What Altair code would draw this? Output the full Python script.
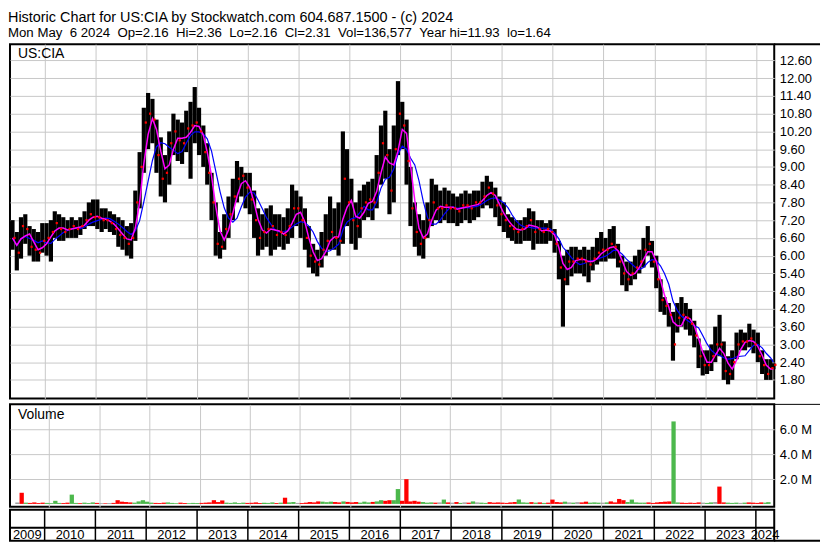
import altair as alt
import pandas as pd

# ---------------- data (monthly, May 2009 .. May 2024) ----------------
high = [
    7.2, 6.8, 7.3, 7.4, 7.0, 6.9, 6.8, 7.1,                          # 2009 May-Dec
    7.1, 7.2, 7.5, 7.4, 7.3, 7.2, 7.3, 7.2, 7.3, 7.5, 7.8, 7.9,      # 2010
    7.9, 7.6, 7.6, 7.5, 7.4, 7.3, 7.2, 7.0, 7.1, 8.2, 9.5, 11.0,     # 2011
    11.5, 11.3, 10.6, 10.0, 9.4, 10.2, 10.8, 10.6, 10.5, 10.9, 11.2, 11.7,  # 2012
    11.0, 10.4, 9.8, 8.8, 7.8, 6.8, 7.4, 8.0, 8.6, 9.2, 9.0, 8.8,    # 2013
    8.8, 8.2, 7.6, 7.4, 7.6, 7.7, 7.4, 7.4, 7.3, 7.6, 8.4, 8.2,      # 2014
    8.0, 7.6, 7.0, 6.4, 6.2, 6.8, 7.4, 8.0, 7.6, 7.8, 10.2, 9.6,     # 2015
    8.6, 7.8, 8.2, 8.4, 8.5, 8.6, 9.4, 10.4, 10.9, 9.6, 10.4, 11.9,  # 2016
    11.2, 10.6, 9.0, 7.8, 7.4, 7.2, 7.8, 8.6, 8.4, 8.2, 8.3, 8.2,    # 2017
    8.1, 8.0, 8.1, 8.2, 8.1, 8.2, 8.2, 8.5, 8.7, 8.5, 8.3, 8.0,      # 2018
    7.8, 7.4, 7.3, 7.2, 7.2, 7.3, 7.6, 7.5, 7.2, 7.2, 7.1, 7.2,      # 2019
    6.9, 6.5, 6.0, 6.2, 6.3, 6.3, 6.2, 6.3, 6.2, 6.3, 6.6, 6.8,      # 2020
    6.6, 6.9, 7.0, 6.4, 6.0, 5.8, 5.8, 6.0, 6.2, 6.6, 7.0, 6.5,      # 2021
    6.0, 5.2, 4.6, 4.4, 4.1, 4.4, 4.6, 4.4, 4.2, 3.8, 3.2, 2.8,      # 2022
    2.8, 3.0, 3.6, 4.0, 3.1, 2.6, 2.8, 3.4, 3.5, 3.4, 3.7, 3.5,      # 2023
    3.4, 2.8, 2.5, 2.5, 2.36,                                        # 2024 Jan-May
]
low = [
    6.2, 5.5, 5.9, 6.4, 6.0, 5.8, 5.8, 6.1,
    6.0, 5.8, 6.6, 6.5, 6.5, 6.6, 6.6, 6.6, 6.7, 6.9, 7.0, 7.0,
    6.9, 6.8, 6.9, 6.8, 6.7, 6.3, 6.2, 6.0, 5.9, 6.5, 7.6, 8.8,
    9.6, 9.8, 8.8, 8.0, 7.8, 8.4, 9.4, 9.2, 9.1, 9.5, 8.6, 9.8,
    9.4, 9.0, 8.4, 7.2, 6.0, 5.9, 6.2, 6.6, 7.2, 7.8, 8.0, 7.6,
    7.4, 6.6, 6.0, 6.2, 6.3, 6.0, 6.2, 6.3, 6.2, 6.4, 6.6, 7.0,
    6.6, 6.2, 5.6, 5.4, 5.3, 5.6, 6.0, 6.2, 6.2, 6.0, 6.4, 7.0,
    6.4, 6.2, 6.6, 7.2, 7.3, 7.2, 7.6, 8.4, 8.6, 7.4, 7.8, 9.4,
    9.6, 8.4, 7.0, 6.3, 6.0, 5.9, 6.6, 7.0, 7.2, 7.1, 7.2, 7.1,
    7.1, 7.0, 7.1, 7.2, 7.1, 7.2, 7.3, 7.6, 7.7, 7.6, 7.3, 7.0,
    6.8, 6.6, 6.5, 6.4, 6.4, 6.5, 6.5, 6.2, 6.4, 6.4, 6.4, 6.5,
    6.1, 5.2, 3.6, 5.0, 5.3, 5.4, 5.4, 5.3, 5.1, 5.5, 5.7, 5.8,
    5.8, 5.9, 5.9, 5.6, 5.0, 4.8, 5.0, 5.2, 5.4, 5.6, 6.0, 5.6,
    4.9, 4.1, 4.0, 3.6, 2.45, 3.4, 3.6, 3.5, 3.3, 2.9, 2.2, 1.95,
    2.0, 2.1, 2.4, 2.6, 1.8, 1.65, 1.8, 2.5, 2.8, 2.8, 2.9, 2.7,
    2.4, 2.0, 1.8, 1.8, 2.16,
]
close = [
    6.6, 6.1, 7.0, 6.9, 6.3, 6.2, 6.1, 6.5,
    6.6, 6.8, 7.1, 6.9, 6.8, 6.9, 7.0, 6.9, 7.0, 7.2, 7.4, 7.3,
    7.3, 7.2, 7.2, 7.1, 6.9, 6.7, 6.6, 6.4, 6.6, 7.8, 9.0, 10.5,
    10.8, 10.6, 9.4, 8.6, 8.8, 9.8, 10.2, 9.9, 9.8, 10.3, 10.4, 10.5,
    10.2, 9.5, 8.8, 7.8, 6.4, 6.3, 6.9, 7.4, 8.0, 8.6, 8.7, 8.3,
    7.9, 7.2, 6.6, 6.8, 6.9, 7.0, 6.7, 6.8, 6.7, 7.0, 7.6, 7.6,
    7.2, 6.6, 6.0, 5.8, 5.7, 6.2, 6.5, 6.8, 6.6, 6.5, 8.6, 7.8,
    7.2, 7.0, 7.6, 7.8, 7.9, 7.8, 8.8, 9.8, 9.4, 8.2, 9.6, 10.8,
    10.4, 9.2, 7.6, 6.8, 6.4, 6.6, 7.2, 7.8, 7.6, 7.6, 7.7, 7.6,
    7.6, 7.5, 7.7, 7.7, 7.6, 7.8, 7.8, 8.0, 8.3, 8.1, 7.7, 7.4,
    7.2, 7.0, 6.9, 6.8, 6.9, 7.0, 7.2, 6.8, 6.9, 6.8, 6.9, 6.8,
    6.4, 5.6, 5.2, 5.8, 5.8, 5.9, 5.9, 5.8, 5.7, 5.9, 6.1, 6.2,
    6.2, 6.4, 6.3, 5.8, 5.4, 5.2, 5.4, 5.6, 5.8, 6.2, 6.4, 5.8,
    5.2, 4.5, 4.3, 4.0, 3.0, 3.9, 4.0, 3.9, 3.7, 3.3, 2.6, 2.3,
    2.3, 2.6, 3.0, 3.0, 2.1, 2.0, 2.4, 3.0, 3.1, 3.1, 3.2, 3.0,
    2.6, 2.3, 2.0, 2.2, 2.31,
]
volume_m = [
    0.12, 0.90, 0.10, 0.08, 0.12, 0.07, 0.10, 0.08,
    0.06, 0.25, 0.08, 0.07, 0.10, 0.75, 0.08, 0.06, 0.10, 0.07, 0.12, 0.08,
    0.06, 0.05, 0.07, 0.08, 0.30, 0.18, 0.15, 0.12, 0.10, 0.20, 0.30, 0.18,
    0.10, 0.08, 0.07, 0.10, 0.12, 0.08, 0.06, 0.10, 0.07, 0.06, 0.08, 0.07,
    0.08, 0.10, 0.12, 0.30, 0.15, 0.28, 0.10, 0.08, 0.12, 0.07, 0.10, 0.08,
    0.09, 0.12, 0.07, 0.10, 0.08, 0.12, 0.07, 0.10, 0.50, 0.12, 0.15, 0.08,
    0.07, 0.10, 0.15, 0.12, 0.20, 0.18, 0.14, 0.18, 0.15, 0.12, 0.20, 0.16,
    0.12, 0.15, 0.10, 0.18, 0.12, 0.16, 0.20, 0.30, 0.25, 0.30, 0.30, 1.20,
    0.25, 2.00, 0.20, 0.25, 0.18, 0.15, 0.10, 0.12, 0.10, 0.12, 0.35, 0.12,
    0.10, 0.15, 0.08, 0.12, 0.10, 0.20, 0.12, 0.10, 0.08, 0.14, 0.10, 0.12,
    0.10, 0.08, 0.12, 0.15, 0.35, 0.12, 0.10, 0.14, 0.10, 0.12, 0.08, 0.10,
    0.35, 0.15, 0.12, 0.18, 0.12, 0.10, 0.14, 0.12, 0.18, 0.10, 0.12, 0.10,
    0.10, 0.12, 0.20, 0.12, 0.40, 0.30, 0.15, 0.35, 0.12, 0.10, 0.10, 0.12,
    0.08, 0.12, 0.15, 0.18, 0.20, 6.67, 0.12, 0.10, 0.08, 0.10, 0.08, 0.12,
    0.10, 0.08, 0.12, 0.15, 1.40, 0.12, 0.10, 0.08, 0.10, 0.08, 0.10, 0.12,
    0.10, 0.08, 0.12, 0.10, 0.14,
]
price_ticks = [1.8, 2.4, 3.0, 3.6, 4.2, 4.8, 5.4, 6.0, 6.6, 7.2, 7.8, 8.4,
               9.0, 9.6, 10.2, 10.8, 11.4, 12.0, 12.6]
volume_ticks = [2.0, 4.0, 6.0]
years = list(range(2009, 2025))
header_1 = "Historic Chart for US:CIA by Stockwatch.com 604.687.1500 - (c) 2024"
header_2 = ("Mon May \u00a06 2024 \u00a0Op=2.16 \u00a0Hi=2.36 \u00a0Lo=2.16 \u00a0Cl=2.31"
            " \u00a0Vol=136,577 \u00a0Year hi=11.93 \u00a0lo=1.64")

# ---------------- tables ----------------
dates = [d + pd.Timedelta(days=14) for d in pd.date_range("2009-05-01", "2024-04-01", freq="MS")]
dates.append(pd.Timestamp("2024-05-06"))
df = pd.DataFrame({"date": dates, "high": high, "low": low, "close": close, "volume": volume_m})
df["ma_fast"] = df["close"].rolling(3, min_periods=1).mean()
df["ma_slow"] = df["close"].rolling(6, min_periods=1).mean()
chg = df["close"].diff().fillna(0)
df["dir"] = ["up" if c > 0 else ("down" if c < 0 else "flat") for c in chg]

x_start = pd.Timestamp("2009-04-27")
x_end = pd.Timestamp("2024-05-12")
year_starts = [pd.Timestamp(f"{y}-01-01") for y in years[1:]]
label_pos = []
for y in years:
    a = max(pd.Timestamp(f"{y}-01-01"), x_start)
    b = min(pd.Timestamp(f"{y + 1}-01-01"), x_end)
    label_pos.append(a + (b - a) / 2)
sep_df = pd.DataFrame({"d": year_starts})
lab_df = pd.DataFrame({"d": label_pos, "t": [str(y) for y in years]})

# ---------------- styling ----------------
FONT = "Liberation Sans"
GRID = "#c8c8c8"
W, PH, VH, AH = 768, 356, 103, 31
RW = 46  # width of the right label column

xscale = alt.Scale(domain=[alt.DateTime(year=2009, month=4, date=27),
                           alt.DateTime(year=2024, month=5, date=12)])
grid_dates = [alt.DateTime(year=y, month=1, date=1) for y in years[1:]]


def xenc(field="date"):
    return alt.X(f"{field}:T", scale=xscale,
                 axis=alt.Axis(values=grid_dates, grid=True, gridColor=GRID, gridWidth=1,
                               labels=False, ticks=False, domain=False, title=None,
                               minExtent=0, maxExtent=0))


pscale = alt.Scale(domain=[1.175, 13.15], zero=False, nice=False)


def penc(field):
    return alt.Y(f"{field}:Q", scale=pscale,
                 axis=alt.Axis(orient="right", values=price_ticks, format=".2f", grid=True,
                               gridColor=GRID, gridWidth=1, ticks=False, domain=False,
                               labelFont=FONT, labelFontSize=13, labelColor="black",
                               labelPadding=5, title=None))


one = pd.DataFrame({"k": [0]})
base = alt.Chart(df)
bars = base.mark_rule(color="black", strokeWidth=4.2).encode(x=xenc(), y=penc("low"), y2="high:Q")
closes = base.mark_square(color="red", size=5, opacity=1, xOffset=2).encode(x=xenc(), y=penc("close"))
ma_fast = base.mark_line(color="#ff00ff", strokeWidth=1.5).encode(x=xenc(), y=penc("ma_fast"))
ma_slow = base.mark_line(color="#0000ff", strokeWidth=1.2).encode(x=xenc(), y=penc("ma_slow"))
sym = alt.Chart(pd.DataFrame({"t": ["US:CIA"]})).mark_text(
    align="left", baseline="middle", font=FONT, fontSize=14, color="black"
).encode(x=alt.value(8), y=alt.value(10), text="t:N")
top_line = alt.Chart(one).mark_rule(color="black", strokeWidth=2).encode(
    x=alt.value(W), x2=alt.value(W + RW), y=alt.value(0))
price = alt.layer(bars, ma_slow, ma_fast, closes, sym, top_line).properties(width=W, height=PH)

vscale = alt.Scale(domain=[-0.24, 8.05], zero=False, nice=False)
vol_bars = base.mark_bar(size=4.3).encode(
    x=xenc(),
    y=alt.Y("volume:Q", scale=vscale,
            axis=alt.Axis(orient="right", values=volume_ticks, grid=True, gridColor=GRID,
                          ticks=False, domain=False, labelFont=FONT, labelFontSize=13,
                          labelColor="black", labelPadding=5, title=None,
                          labelExpr="format(datum.value, '.1f') + ' M'")),
    y2=alt.value(VH),
    color=alt.Color("dir:N", scale=alt.Scale(domain=["up", "down", "flat"],
                                              range=["#4cb84c", "#ff0000", "#a0a0a0"]),
                    legend=None),
)
vol_lab = alt.Chart(pd.DataFrame({"t": ["Volume"]})).mark_text(
    align="left", baseline="middle", font=FONT, fontSize=14, color="black"
).encode(x=alt.value(8), y=alt.value(11), text="t:N")
vol_line = alt.Chart(one).mark_rule(color="black", strokeWidth=1).encode(
    x=alt.value(W), x2=alt.value(W + RW), y=alt.value(0))
volume = alt.layer(vol_bars, vol_lab, vol_line).properties(width=W, height=VH)

sep = alt.Chart(sep_df).mark_rule(color="black", strokeWidth=1.5).encode(
    x=alt.X("d:T", scale=xscale, axis=None), y=alt.value(0), y2=alt.value(AH))
mid = alt.Chart(one).mark_rule(color="black", strokeWidth=2).encode(
    x=alt.value(0), x2=alt.value(W), y=alt.value(18))
bottom_line = alt.Chart(one).mark_rule(color="black", strokeWidth=2).encode(
    x=alt.value(W), x2=alt.value(W + RW), y=alt.value(AH))
yr = alt.Chart(lab_df).mark_text(font=FONT, fontSize=13, color="black", baseline="middle").encode(
    x=alt.X("d:T", scale=xscale, axis=None), y=alt.value(25), text="t:N")
axisrow = alt.layer(sep, mid, bottom_line, yr).properties(width=W, height=AH)

chart = alt.vconcat(
    price,
    alt.vconcat(volume, axisrow, spacing=0),
    spacing=3,
    padding={"left": 0, "top": 1, "right": 0, "bottom": 0},
).properties(
    title=alt.TitleParams(text=header_1, subtitle=header_2, anchor="start", font=FONT,
                          fontSize=14.5, fontWeight="normal", color="black",
                          subtitleFont=FONT, subtitleFontSize=13.3, subtitleColor="black",
                          subtitlePadding=0, offset=2)
).configure_view(stroke="black", strokeWidth=2)

chart.save("out.html", embed_options={"renderer": "svg", "actions": False})
